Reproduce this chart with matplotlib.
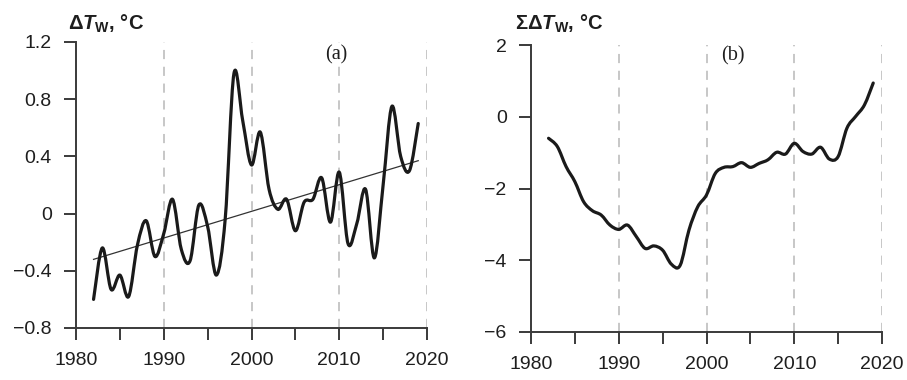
import matplotlib
matplotlib.use("Agg")
import matplotlib.pyplot as plt
from matplotlib.path import Path
from matplotlib.patches import PathPatch

plt.rcParams['font.family'] = ['Liberation Sans', 'DejaVu Sans']
plt.rcParams['mathtext.fontset'] = 'custom'
plt.rcParams['mathtext.rm'] = 'Liberation Sans'
plt.rcParams['mathtext.it'] = 'Liberation Sans:italic'
plt.rcParams['mathtext.bf'] = 'Liberation Sans:bold'
plt.rcParams['mathtext.bfit'] = 'Liberation Sans:bold:italic'

years = list(range(1982, 2020))
anomaly = [-0.60, -0.24, -0.53, -0.43, -0.58, -0.22, -0.05, -0.30, -0.14, 0.10,
           -0.25, -0.33, 0.06, -0.09, -0.43, -0.04, 0.98, 0.65, 0.34, 0.57,
           0.17, 0.03, 0.10, -0.12, 0.08, 0.10, 0.25, -0.06, 0.29, -0.21,
           -0.07, 0.17, -0.31, 0.20, 0.75, 0.40, 0.30, 0.63]
trend_years = [1982, 2019]
trend_vals = [-0.32, 0.37]
cumulative = [-0.60, -0.83, -1.39, -1.81, -2.37, -2.62, -2.74, -3.02, -3.14, -3.02,
              -3.34, -3.67, -3.60, -3.72, -4.11, -4.14, -3.16, -2.51, -2.18, -1.58,
              -1.41, -1.39, -1.28, -1.41, -1.30, -1.20, -0.99, -1.04, -0.74, -0.97,
              -1.04, -0.85, -1.18, -1.11, -0.32, 0.01, 0.33, 0.94]

xticks = [1980, 1985, 1990, 1995, 2000, 2005, 2010, 2015, 2020]
xticklabels = ['1980', '', '1990', '', '2000', '', '2010', '', '2020']
grid_years = [1990, 2000, 2010, 2020]
yticks_a = [-0.8, -0.4, 0, 0.4, 0.8, 1.2]
yticklabels_a = ['\u22120.8', '\u22120.4', '0', '0.4', '0.8', '1.2']
yticks_b = [-6, -4, -2, 0, 2]
yticklabels_b = ['\u22126', '\u22124', '\u22122', '0', '2']

W, H = 907, 380
fig = plt.figure(figsize=(W / 100, H / 100), dpi=100)
ax_a = fig.add_axes([76 / W, 1 - 328 / H, (427 - 76) / W, (328 - 42) / H])
ax_b = fig.add_axes([531 / W, 1 - 332 / H, (882 - 531) / W, (332 - 45) / H])

spine_c = '#3a3a3a'
line_c = '#1a1a1a'
grid_c = '#b8b8b8'
text_c = '#1e1e1e'


def style(ax, ylim, yt, ytl):
    ax.set_xlim(1980, 2020)
    ax.set_ylim(*ylim)
    for s in ['top', 'right']:
        ax.spines[s].set_visible(False)
    for s in ['left', 'bottom']:
        ax.spines[s].set_color(spine_c)
        ax.spines[s].set_linewidth(1.4)
    ax.set_xticks(xticks)
    ax.set_xticklabels(xticklabels)
    ax.set_yticks(yt)
    ax.set_yticklabels(ytl)
    ax.tick_params(axis='both', direction='out', length=8.5, width=1.4,
                   color=spine_c, labelsize=14, labelcolor=text_c)
    ax.tick_params(axis='x', pad=9)
    ax.tick_params(axis='y', pad=9)
    for gy in grid_years:
        ax.axvline(gy, color=grid_c, lw=1.1, dashes=(6, 5), zorder=0)


def smooth_line(ax, xs, ys, **kw):
    pts = list(zip(xs, ys))
    n = len(pts)
    verts = [pts[0]]
    codes = [Path.MOVETO]
    for i in range(n - 1):
        p0 = pts[i - 1] if i > 0 else pts[i]
        p1 = pts[i]
        p2 = pts[i + 1]
        p3 = pts[i + 2] if i + 2 < n else pts[i + 1]
        c1 = (p1[0] + (p2[0] - p0[0]) / 6, p1[1] + (p2[1] - p0[1]) / 6)
        c2 = (p2[0] - (p3[0] - p1[0]) / 6, p2[1] - (p3[1] - p1[1]) / 6)
        verts += [c1, c2, p2]
        codes += [Path.CURVE4, Path.CURVE4, Path.CURVE4]
    patch = PathPatch(Path(verts, codes), fill=False, **kw)
    ax.add_patch(patch)


style(ax_a, (-0.8, 1.2), yticks_a, yticklabels_a)
style(ax_b, (-6, 2), yticks_b, yticklabels_b)

smooth_line(ax_a, years, anomaly, edgecolor=line_c, lw=2.3,
            joinstyle='round', capstyle='round', zorder=3)
ax_a.plot(trend_years, trend_vals, color='#333333', lw=0.9, zorder=2)
smooth_line(ax_b, years, cumulative, edgecolor=line_c, lw=2.3,
            joinstyle='round', capstyle='round', zorder=3)

ax_a.text(2009.7, 1.11, '(a)', family='Liberation Serif', fontsize=14.5,
          ha='center', va='center', color=text_c)
ax_b.text(2003.0, 1.69, '(b)', family='Liberation Serif', fontsize=14.5,
          ha='center', va='center', color=text_c)

fig.text(68 / W, 1 - 30 / H, r'$\mathbf{\Delta}\mathbfit{T}_{\mathbf{W}}$, °C',
         fontsize=14.5, fontweight='bold', ha='left', va='baseline', color=text_c)
fig.text(515 / W, 1 - 30 / H, r'$\mathbf{\Sigma\Delta}\mathbfit{T}_{\mathbf{W}}$, °C',
         fontsize=14.5, fontweight='bold', ha='left', va='baseline', color=text_c)

fig.savefig('out.png', dpi=100)
